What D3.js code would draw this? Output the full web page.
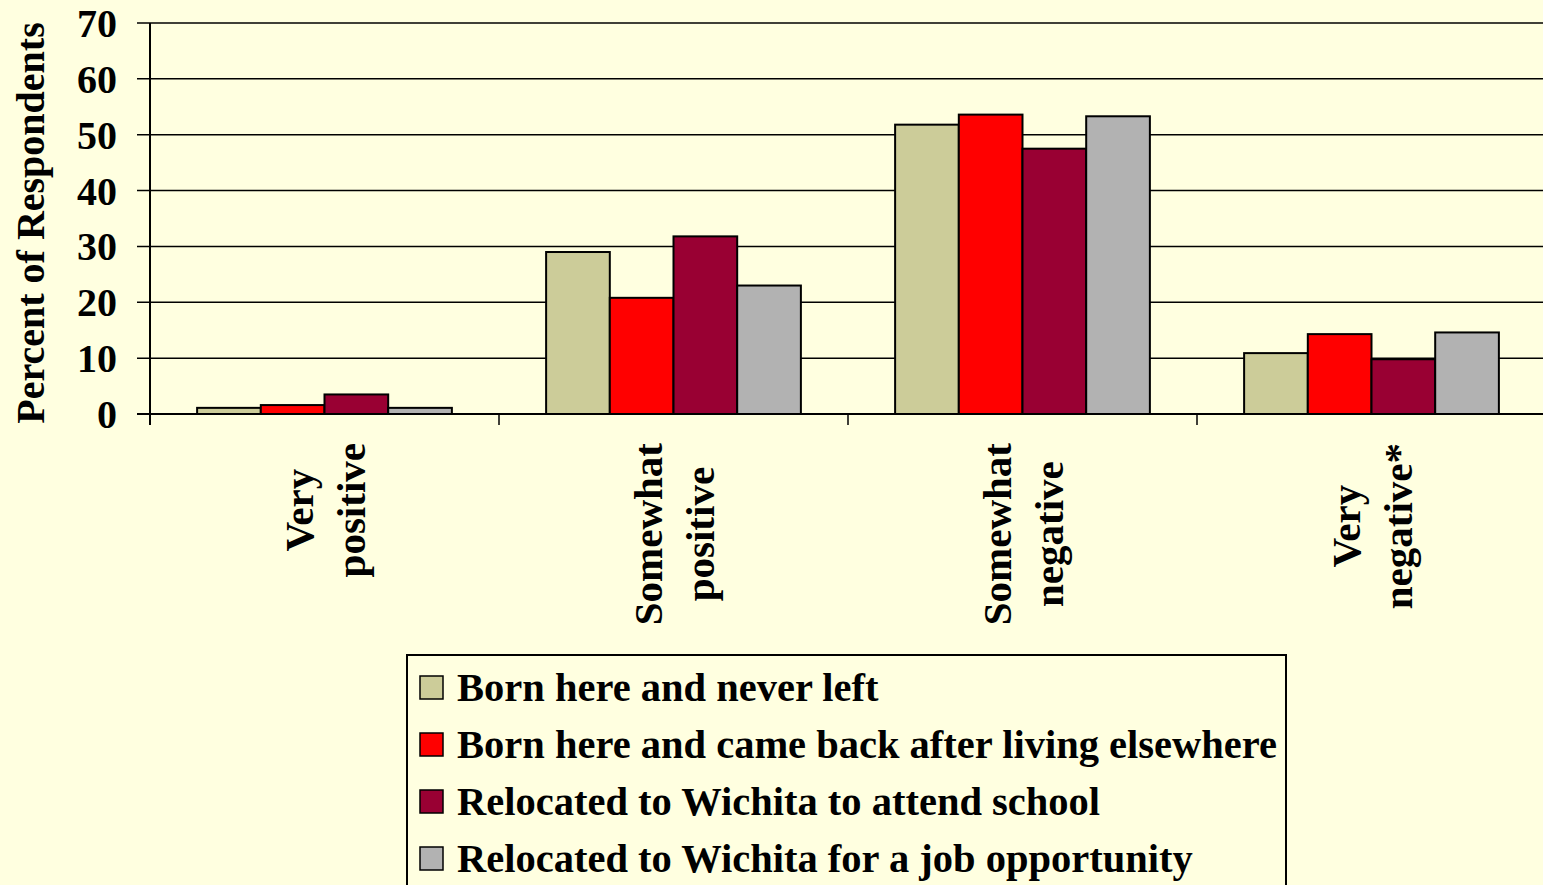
<!DOCTYPE html>
<html lang="en">
<head>
    <meta charset="UTF-8">
    <title>Percent of Respondents</title>
    <script src="https://d3js.org/d3.v7.min.js"></script>
    <style>
        body { margin: 0; background: #ffffe0; }
        svg { display: block; }
        text { font-family: "Liberation Serif", "Times New Roman", serif; font-weight: bold; fill: #000; }
        .bar { stroke: #000; stroke-width: 2; }
        .grid line { stroke: #000; stroke-width: 1.5; }
    </style>
</head>
<body>
<script>
    // categories, series and values
    var categories = [["Very", "positive"], ["Somewhat", "positive"], ["Somewhat", "negative"], ["Very", "negative*"]];
    var seriesNames = ["Born here and never left",
        "Born here and came back after living elsewhere",
        "Relocated to Wichita to attend school",
        "Relocated to Wichita for a job opportunity"];
    var seriesColors = ["#cccc99", "#ff0000", "#990033", "#b2b2b2"];
    var bornNeverLeft = [1.1, 29.0, 51.8, 10.9];
    var bornCameBack = [1.6, 20.8, 53.6, 14.3];
    var relocatedSchool = [3.5, 31.8, 47.5, 9.8];
    var relocatedJob = [1.1, 23.0, 53.3, 14.6];
    var yTicks = [0, 10, 20, 30, 40, 50, 60, 70];

    var series = [bornNeverLeft, bornCameBack, relocatedSchool, relocatedJob];

    var width = 1543, height = 885;
    var plotLeft = 150, plotRight = 1546, plotTop = 23, plotBottom = 414;

    var svg = d3.select("body").append("svg").attr("width", width).attr("height", height);

    var x0 = d3.scaleBand().domain(d3.range(categories.length)).range([plotLeft, plotRight])
        .paddingInner(0.27).paddingOuter(0.135);
    var x1 = d3.scaleBand().domain(d3.range(series.length)).range([0, x0.bandwidth()]);
    var y = d3.scaleLinear().domain([0, 70]).range([plotBottom, plotTop]);

    // gridlines
    svg.append("g").attr("class", "grid").selectAll("line").data(yTicks).enter()
        .append("line")
        .attr("x1", plotLeft - 13).attr("x2", width)
        .attr("y1", function (d) { return y(d); }).attr("y2", function (d) { return y(d); });

    // y axis line + category tick marks
    svg.append("line").attr("x1", plotLeft).attr("x2", plotLeft).attr("y1", plotTop).attr("y2", plotBottom + 11)
        .attr("stroke", "#000").attr("stroke-width", 2);
    svg.append("g").selectAll("line").data(d3.range(1, categories.length)).enter()
        .append("line")
        .attr("x1", function (d) { return x0.step() * d + plotLeft; })
        .attr("x2", function (d) { return x0.step() * d + plotLeft; })
        .attr("y1", plotBottom).attr("y2", plotBottom + 11)
        .attr("stroke", "#000").attr("stroke-width", 1.5);

    // y tick labels
    svg.append("g").selectAll("text").data(yTicks).enter()
        .append("text")
        .attr("x", 117).attr("y", function (d) { return y(d); })
        .attr("dy", "0.35em").attr("text-anchor", "end")
        .style("font-size", "40px")
        .text(function (d) { return d; });

    // axis title
    svg.append("text")
        .attr("transform", "translate(30,223) rotate(-90)")
        .attr("text-anchor", "middle").attr("dy", "0.35em")
        .style("font-size", "40px")
        .text("Percent of Respondents");

    // bars
    var groups = svg.append("g").selectAll("g").data(categories).enter()
        .append("g")
        .attr("transform", function (d, i) { return "translate(" + x0(i) + ",0)"; });
    groups.selectAll("rect")
        .data(function (d, i) { return series.map(function (s, k) { return { k: k, v: s[i] }; }); })
        .enter().append("rect")
        .attr("class", "bar")
        .attr("x", function (d) { return x1(d.k); })
        .attr("width", x1.bandwidth())
        .attr("y", function (d) { return y(d.v); })
        .attr("height", function (d) { return plotBottom - y(d.v); })
        .attr("fill", function (d) { return seriesColors[d.k]; });

    // baseline over bars
    svg.append("line").attr("x1", plotLeft - 13).attr("x2", width).attr("y1", plotBottom).attr("y2", plotBottom)
        .attr("stroke", "#000").attr("stroke-width", 2);

    // category labels, rotated, two lines
    categories.forEach(function (lines, i) {
        var cx = x0(i) + x0.bandwidth() / 2;
        var g = svg.append("g");
        var texts = lines.map(function (t) {
            return g.append("text")
                .attr("text-anchor", "middle").attr("dy", "0.35em")
                .style("font-size", "41px")
                .text(t);
        });
        var maxLen = d3.max(texts, function (t) { return t.node().getComputedTextLength(); });
        var cy = 443 + maxLen / 2;
        texts.forEach(function (t, j) {
            var tx = cx + (j - 0.5) * 52;
            t.attr("transform", "translate(" + tx + "," + cy + ") rotate(-90)");
        });
    });

    // legend
    var legend = svg.append("g").attr("transform", "translate(407,655)");
    legend.append("rect").attr("x", 0).attr("y", 0).attr("width", 879).attr("height", 250)
        .attr("fill", "none").attr("stroke", "#000").attr("stroke-width", 2);
    var items = legend.selectAll("g.item").data(seriesNames).enter()
        .append("g").attr("class", "item")
        .attr("transform", function (d, i) { return "translate(0," + (32 + i * 57) + ")"; });
    items.append("rect")
        .attr("x", 13).attr("y", -11).attr("width", 23).attr("height", 23)
        .attr("fill", function (d, i) { return seriesColors[i]; })
        .attr("stroke", "#000").attr("stroke-width", 1.5);
    items.append("text")
        .attr("x", 50).attr("dy", "0.35em")
        .style("font-size", "40.5px")
        .text(function (d) { return d; });
</script>
</body>
</html>
